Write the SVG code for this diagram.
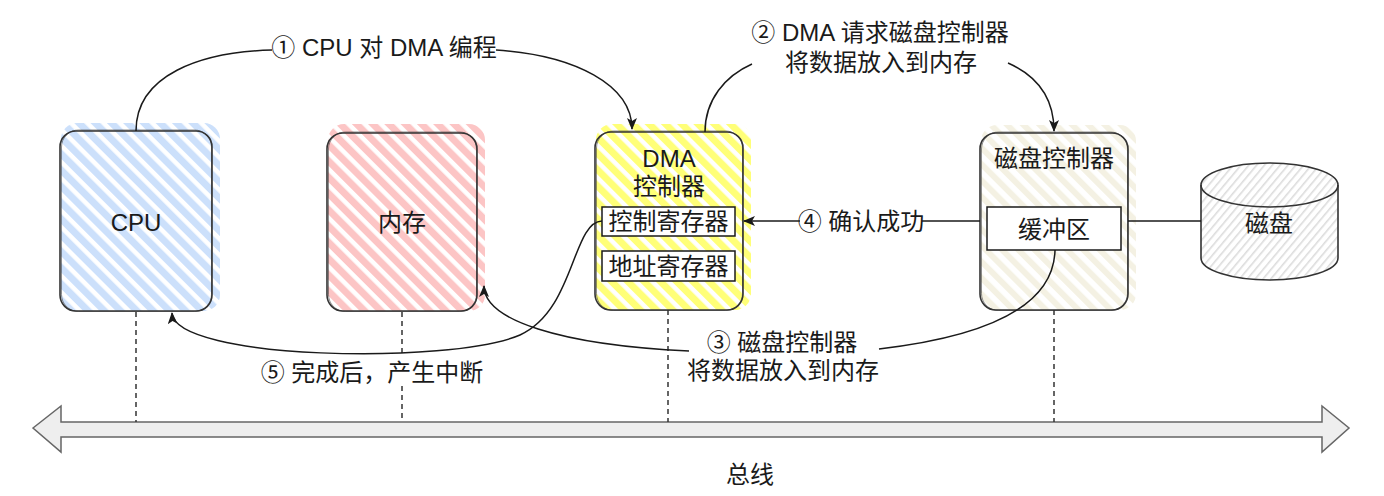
<svg xmlns="http://www.w3.org/2000/svg" width="1384" height="496" viewBox="0 0 1384 496">
<style>
  text { font-family: "Liberation Sans", "Noto Sans CJK SC", sans-serif; font-size: 24px; fill: #1a1a1a; text-anchor: middle; dominant-baseline: central; }
  .box { fill: none; stroke: #333333; stroke-width: 1.6; }
  .box2 { fill: none; stroke: #333333; stroke-width: 1; stroke-opacity: 0.55; }
  .inner { fill: #ffffff; stroke: #1a1a1a; stroke-width: 1.5; }
  .conn { fill: none; stroke: #1a1a1a; stroke-width: 1.5; }
  .dash { fill: none; stroke: #333333; stroke-width: 1.5; stroke-dasharray: 5 4; }
</style>
<defs>
  <pattern id="hBlue" width="11.5" height="11.5" patternUnits="userSpaceOnUse" patternTransform="rotate(-45)">
    <rect x="0" y="0" width="7" height="11.5" fill="#cce0fb"/>
  </pattern>
  <pattern id="hRed" width="11.5" height="11.5" patternUnits="userSpaceOnUse" patternTransform="rotate(-45)">
    <rect x="0" y="0" width="7" height="11.5" fill="#fcc5c5"/>
  </pattern>
  <pattern id="hYellow" width="11.5" height="11.5" patternUnits="userSpaceOnUse" patternTransform="rotate(-45)">
    <rect x="0" y="0" width="7" height="11.5" fill="#ffff78"/>
  </pattern>
  <pattern id="hBeige" width="11.5" height="11.5" patternUnits="userSpaceOnUse" patternTransform="rotate(-45)">
    <rect x="0" y="0" width="6" height="11.5" fill="#f4f1e3"/>
  </pattern>
  <pattern id="hGray" width="6" height="6" patternUnits="userSpaceOnUse" patternTransform="rotate(40)">
    <rect x="0" y="0" width="1.6" height="6" fill="#dcdcdc"/>
  </pattern>
  <marker id="arr" viewBox="0 0 12 10" refX="11" refY="5" markerWidth="12" markerHeight="10" markerUnits="userSpaceOnUse" orient="auto">
    <path d="M0,0 L12,5 L0,10 L3,5 Z" fill="#1a1a1a"/>
  </marker>
</defs>

<rect width="1384" height="496" fill="#ffffff"/>

<!-- Bus -->
<g id="bus">
  <path d="M33,428 L61,406 L61,422 L1322,422 L1322,406 L1349,428 L1322,452 L1322,437 L61,437 L61,452 Z" fill="#eeeeee" stroke="#666666" stroke-width="1.5" stroke-linejoin="miter"/>
  <text x="750" y="474">总线</text>
</g>

<!-- Dashed drop lines -->
<g id="drops">
  <line class="dash" x1="136" y1="312" x2="136" y2="422"/>
  <line class="dash" x1="402" y1="312" x2="402" y2="357"/>
  <line class="dash" x1="402" y1="386" x2="402" y2="422"/>
  <line class="dash" x1="668" y1="310" x2="668" y2="422"/>
  <line class="dash" x1="1054" y1="310" x2="1054" y2="422"/>
</g>

<!-- CPU -->
<g id="cpu">
  <rect x="61" y="123" width="159" height="188" rx="16" fill="url(#hBlue)"/>
  <rect class="box" x="60" y="131" width="152" height="180" rx="16"/>
  <rect class="box2" x="61.5" y="130" width="150" height="181.5" rx="17"/>
  <text x="136" y="222">CPU</text>
</g>

<!-- Memory -->
<g id="memory">
  <rect x="328" y="124" width="157" height="187" rx="16" fill="url(#hRed)"/>
  <rect class="box" x="327" y="133" width="150" height="178" rx="16"/>
  <rect class="box2" x="328.5" y="132" width="148" height="179.5" rx="17"/>
  <text x="402" y="222">内存</text>
</g>

<!-- DMA controller -->
<g id="dma">
  <rect x="596" y="124" width="155" height="186" rx="16" fill="url(#hYellow)"/>
  <rect class="box" x="595" y="132" width="148" height="178" rx="16"/>
  <rect class="box2" x="596.5" y="131" width="146" height="179.5" rx="17"/>
  <text x="669" y="158">DMA</text>
  <text x="669" y="186">控制器</text>
  <rect class="inner" x="602" y="207" width="133" height="29"/>
  <text x="668.5" y="221.5">控制寄存器</text>
  <rect class="inner" x="602" y="251" width="133" height="30"/>
  <text x="668.5" y="266">地址寄存器</text>
</g>

<!-- Disk controller -->
<g id="diskctrl">
  <rect x="981" y="125" width="155" height="185" rx="16" fill="url(#hBeige)"/>
  <rect class="box" x="980" y="133" width="148" height="177" rx="16"/>
  <rect class="box2" x="981.5" y="132" width="146" height="178.5" rx="17"/>
  <text x="1054" y="158">磁盘控制器</text>
  <rect class="inner" x="987" y="207" width="134" height="43"/>
  <text x="1054" y="229">缓冲区</text>
</g>

<!-- Disk -->
<g id="disk">
  <path d="M1201,185 A68.5,22 0 0 1 1338,185 L1338,258 A68.5,22 0 0 1 1201,258 Z" fill="url(#hGray)" stroke="#333333" stroke-width="1.6"/>
  <path d="M1201,185 A68.5,22 0 0 0 1338,185" fill="none" stroke="#333333" stroke-width="1.6"/>
  <text x="1269" y="223">磁盘</text>
</g>

<!-- Connectors -->
<g id="connectors">
  <!-- 1 -->
  <path class="conn" d="M136,131 C136,75 200,52 272,50"/>
  <path class="conn" d="M496,50 C575,55 632,85 632,129" marker-end="url(#arr)"/>
  <text x="384" y="47">① CPU 对 DMA 编程</text>
  <!-- 2 -->
  <path class="conn" d="M705,132 C705,100 725,76 752,64"/>
  <path class="conn" d="M1008,63 C1035,75 1054,95 1054,131" marker-end="url(#arr)"/>
  <text x="880" y="32">② DMA 请求磁盘控制器</text>
  <text x="881" y="62">将数据放入到内存</text>
  <!-- 4 -->
  <path class="conn" d="M980,221 L922,221"/>
  <path class="conn" d="M800,221 L744,221" marker-end="url(#arr)"/>
  <text x="861" y="221">④ 确认成功</text>
  <!-- disk link -->
  <path class="conn" d="M1128,221 L1201,221"/>
  <!-- 3 -->
  <path class="conn" d="M1055,250 C1054,300 1000,335 879,349"/>
  <path class="conn" d="M689,351 C560,345 484,320 484,286" marker-end="url(#arr)"/>
  <text x="782" y="342">③ 磁盘控制器</text>
  <text x="783" y="370">将数据放入到内存</text>
  <!-- 5 -->
  <path class="conn" d="M602,221 C572,222 575,310 520,335 C450,365 175,360 172,313" marker-end="url(#arr)"/>
  <text x="372" y="372">⑤ 完成后，产生中断</text>
</g>
</svg>
